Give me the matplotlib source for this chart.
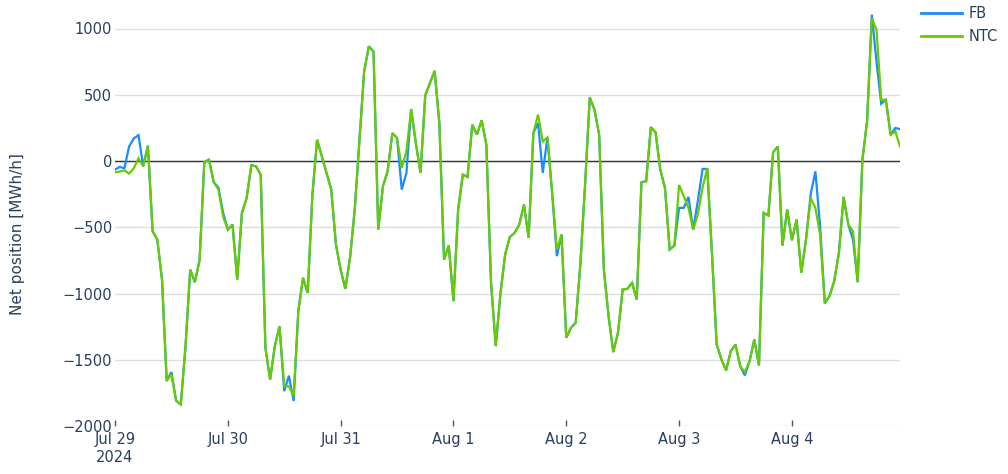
import matplotlib
matplotlib.use("Agg")
import matplotlib.pyplot as plt
import pandas as pd
import numpy as np

# ---- data (hourly, Jul 29 00:00 – Aug 4 23:00, 2024) ----
start = "2024-07-29 00:00"
ntc = [
    -85, -80, -70, -95, -55, 20, -40, 115, -530, -593, -895, -1660,
    -1610, -1810, -1837, -1400, -820, -915, -745, -8, 10, -160, -215, -420,
    -518, -480, -895, -392, -280, -33, -40, -103, -1410, -1650, -1397, -1247,
    -1700, -1700, -1775, -1133, -882, -995, -250, 160, 35, -90, -215, -630,
    -820, -965, -730, -367, 150, 675, 865, 826, -518, -190, -78, 210,
    173, -53, 73, 392, 135, -90, 495, 588, 680, 286, -744, -638,
    -1058, -367, -103, -120, 274, 199, 307, 123, -920, -1397, -1000, -706,
    -573, -543, -480, -329, -580, 211, 350, 148, 178, -241, -668, -555,
    -1334, -1259, -1221, -780, -180, 480, 387, 198, -820, -1170, -1442, -1297,
    -970, -965, -920, -1045, -160, -153, 256, 216, -65, -203, -668, -638,
    -181, -266, -354, -518, -400, -200, -55, -700, -1385, -1497, -1580, -1435,
    -1385, -1548, -1593, -1510, -1347, -1543, -392, -412, 65, 110, -638, -367,
    -598, -442, -844, -593, -279, -354, -555, -1070, -1020, -907, -694, -271,
    -480, -530, -915, 10, 300, 1078, 990, 462, 462, 198, 224, 110,
]
fb = [
    -65, -45, -55, 110, 170, 195, -40, 115, -530, -593, -895, -1660,
    -1593, -1810, -1837, -1400, -820, -915, -745, -8, 10, -160, -200, -390,
    -518, -480, -895, -392, -280, -33, -40, -103, -1410, -1650, -1397, -1247,
    -1737, -1620, -1812, -1133, -882, -995, -250, 160, 35, -90, -215, -630,
    -820, -965, -730, -367, 150, 675, 865, 826, -518, -190, -78, 210,
    173, -216, -90, 392, 135, -90, 495, 588, 680, 286, -744, -638,
    -1058, -367, -103, -120, 274, 199, 307, 123, -920, -1397, -1000, -706,
    -573, -543, -480, -329, -580, 211, 286, -90, 178, -241, -718, -555,
    -1334, -1259, -1221, -780, -180, 480, 387, 198, -820, -1170, -1442, -1297,
    -970, -965, -920, -1045, -160, -153, 256, 216, -65, -203, -668, -638,
    -354, -354, -271, -518, -300, -60, -60, -700, -1385, -1497, -1580, -1435,
    -1385, -1548, -1618, -1510, -1347, -1543, -392, -412, 65, 110, -638, -367,
    -598, -442, -844, -593, -250, -78, -492, -1075, -1020, -907, -694, -271,
    -480, -593, -915, 10, 300, 1105, 750, 432, 462, 198, 249, 241,
]
series_names = ["FB", "NTC"]
tick_dates = ["2024-07-29", "2024-07-30", "2024-07-31", "2024-08-01",
              "2024-08-02", "2024-08-03", "2024-08-04"]
tick_labels = ["Jul 29\n2024", "Jul 30", "Jul 31", "Aug 1", "Aug 2", "Aug 3", "Aug 4"]
y_ticks = [-2000, -1500, -1000, -500, 0, 500, 1000]
y_label = "Net position [MWh/h]"

# ---- plotting ----
plt.rcParams['font.family'] = ['DejaVu Sans']
text_color = '#2a3f5f'
fs = 10.5

times = pd.date_range(start, periods=len(ntc), freq="h")

W, H = 1008, 474
fig = plt.figure(figsize=(W / 100, H / 100), dpi=100)
ax = fig.add_axes([115 / W, 48 / H, 785 / W, 424 / H])

ax.plot(times, fb, color='#1a8cff', lw=1.6, label=series_names[0], zorder=3,
        solid_joinstyle='miter')
ax.plot(times, ntc, color='#66cc00', lw=1.6, label=series_names[1], zorder=4,
        solid_joinstyle='miter')

ax.set_xlim(times[0], times[-1])
ax.set_ylim(-2000, 1200)
ax.set_yticks(y_ticks)
ax.set_yticklabels([f"{v}".replace("-", "\u2212") for v in y_ticks])
ax.set_xticks(pd.to_datetime(tick_dates))
ax.set_xticklabels(tick_labels, linespacing=1.3)

ax.grid(axis='y', color='#dedede', lw=1)
ax.axhline(0, color='#333333', lw=1, zorder=2)
for s in ax.spines.values():
    s.set_visible(False)
ax.tick_params(axis='y', length=0, pad=2, labelsize=fs, labelcolor=text_color)
ax.tick_params(axis='x', direction='in', length=4, width=1, color='#555555',
               pad=4, labelsize=fs, labelcolor=text_color)
ax.set_axisbelow(True)

fig.text(18 / W, 1 - 234 / H, y_label, rotation=90, ha='center', va='center',
         fontsize=fs + 0.5, color=text_color)

leg = fig.legend(loc='upper left', bbox_to_anchor=(921 / W, 1 - 6 / H),
                 frameon=False, fontsize=fs, handlelength=2.8,
                 handletextpad=0.45, labelspacing=0.55, borderpad=0,
                 borderaxespad=0)
for t in leg.get_texts():
    t.set_color(text_color)
for l in leg.get_lines():
    l.set_linewidth(2)

fig.savefig("out.png", dpi=100, facecolor='white')
